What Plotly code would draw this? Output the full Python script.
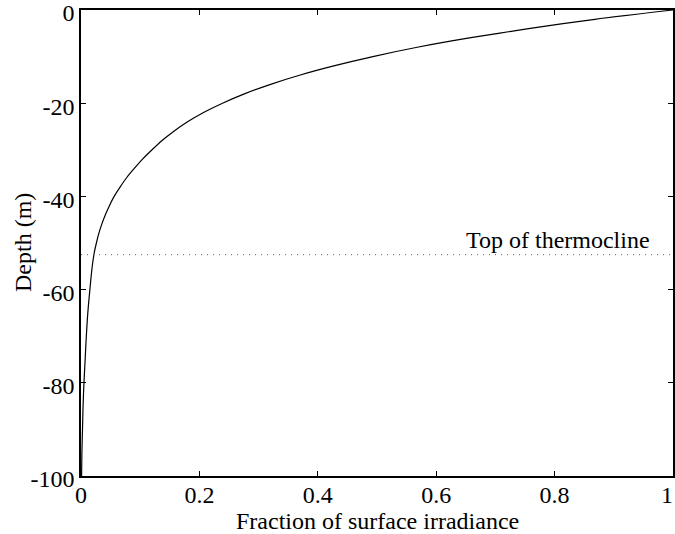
import plotly.graph_objects as go

depth = [0, -2, -4, -6, -8, -10, -12, -14, -16, -18, -20, -22, -24, -26, -28, -30,
         -32, -34, -36, -38, -40, -42, -44, -46, -48, -50, -52, -55, -60, -65, -70,
         -75, -80, -85, -90, -95, -100]
fraction = [1.0, 0.868, 0.756, 0.656, 0.568, 0.493, 0.427, 0.369, 0.319, 0.276, 0.239, 0.207,
            0.180, 0.157, 0.137, 0.120, 0.104, 0.090, 0.077, 0.066, 0.056, 0.048, 0.041,
            0.035, 0.030, 0.026, 0.0225, 0.019, 0.015, 0.0115, 0.009, 0.007, 0.005,
            0.0035, 0.0025, 0.0015, 0.001]
thermocline_depth = -52.5
thermocline_label = "Top of thermocline"
x_ticks = [0, 0.2, 0.4, 0.6, 0.8, 1]
x_ticklabels = ["0", "0.2", "0.4", "0.6", "0.8", "1\u2002"]
y_ticks = [0, -20, -40, -60, -80, -100]
y_ticklabels = ["0", "-20", "-40", "-60", "-80", "-100"]
x_title = "Fraction of surface irradiance"
y_title = "Depth (m)"

FONT = "Liberation Serif, Times New Roman, serif"
FS = 24

fig = go.Figure()
fig.add_trace(go.Scatter(x=fraction, y=depth, mode="lines",
                         line=dict(color="black", width=1.2, shape="spline", smoothing=0.8),
                         showlegend=False))
fig.add_trace(go.Scatter(x=[0, 1], y=[thermocline_depth, thermocline_depth], mode="lines",
                         line=dict(color="#666666", width=1, dash="1px,5px"), showlegend=False))
fig.add_annotation(x=0.965, y=thermocline_depth, xref="x", yref="y", text=thermocline_label,
                   showarrow=False, xanchor="right", yanchor="bottom", yshift=0,
                   font=dict(family=FONT, size=FS, color="black"))
# axis titles placed as annotations for exact positioning
fig.add_annotation(x=0.5, y=0, xref="paper", yref="paper", text=x_title, showarrow=False,
                   xanchor="center", yanchor="top", yshift=-30,
                   font=dict(family=FONT, size=FS, color="black"))
fig.add_annotation(x=0, y=0.5, xref="paper", yref="paper", text=y_title, showarrow=False,
                   textangle=-90, xanchor="center", yanchor="middle", xshift=-58,
                   font=dict(family=FONT, size=FS, color="black"))

axis_common = dict(showline=True, linecolor="black", linewidth=1.5, mirror="ticks",
                   ticks="inside", ticklen=5, tickcolor="black", showgrid=False,
                   zeroline=False, ticklabeloverflow="allow",
                   tickfont=dict(family=FONT, size=FS, color="black"))
fig.update_xaxes(range=[0, 1], tickvals=x_ticks, ticktext=x_ticklabels,
                 ticklabelstandoff=-4, **axis_common)
fig.update_yaxes(range=[-100, 0], tickvals=y_ticks, ticktext=y_ticklabels,
                 ticklabelshift=3, **axis_common)
fig.update_layout(width=675, height=534, margin=dict(l=81, r=2, t=10, b=58),
                  plot_bgcolor="white", paper_bgcolor="white")
fig.update_xaxes(automargin=False)
fig.update_yaxes(automargin=False)
fig.write_html("out.html")
